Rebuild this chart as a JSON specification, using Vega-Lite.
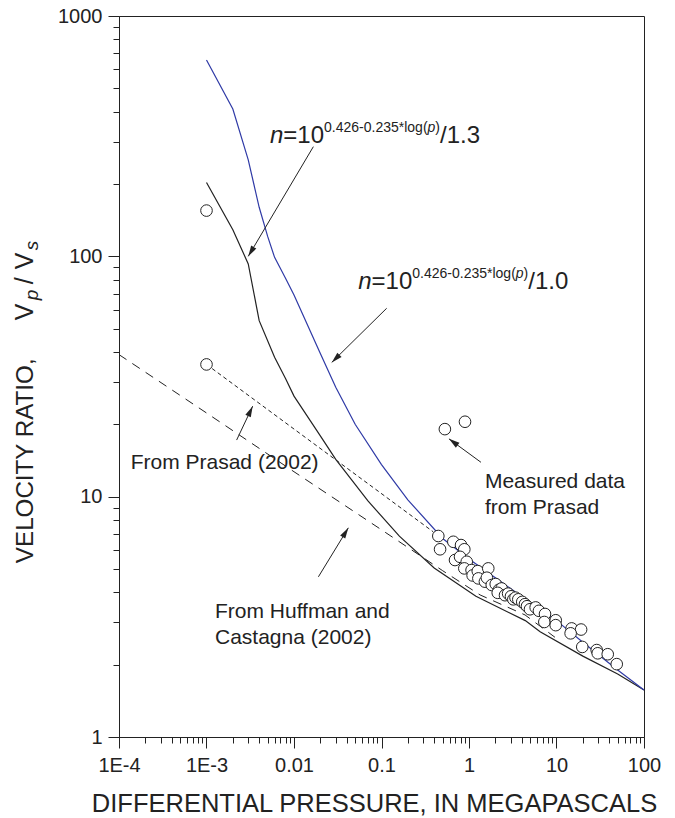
{
  "$schema": "https://vega.github.io/schema/vega-lite/v6.json",
  "width": 525,
  "height": 721,
  "autosize": {"type": "none"},
  "padding": {"left": 119, "top": 16, "right": 31, "bottom": 81},
  "background": "white",
  "config": {
    "font": "Liberation Sans",
    "view": {"stroke": "#222", "strokeWidth": 1},
    "axis": {
      "grid": false,
      "domainColor": "#222",
      "tickColor": "#222",
      "labelColor": "#222",
      "titleColor": "#222",
      "labelFont": "Liberation Sans",
      "titleFont": "Liberation Sans",
      "labelFontSize": 20,
      "titleFontSize": 25.5,
      "titleFontWeight": "normal",
      "labelOverlap": false,
      "labelFlush": false
    }
  },
  "datasets": {
    "blue": [
      {"p": 0.001, "v": 656}, {"p": 0.002, "v": 410}, {"p": 0.003, "v": 252},
      {"p": 0.004, "v": 160}, {"p": 0.005, "v": 121}, {"p": 0.006, "v": 99},
      {"p": 0.008, "v": 81}, {"p": 0.01, "v": 69}, {"p": 0.02, "v": 39.4},
      {"p": 0.03, "v": 28.5}, {"p": 0.05, "v": 20.0}, {"p": 0.1, "v": 13.6},
      {"p": 0.2, "v": 9.7}, {"p": 0.5, "v": 6.7}, {"p": 1, "v": 5.5},
      {"p": 2, "v": 4.6}, {"p": 5, "v": 3.63}, {"p": 10, "v": 3.05},
      {"p": 20, "v": 2.48}, {"p": 50, "v": 1.9}, {"p": 100, "v": 1.57}
    ],
    "black": [
      {"p": 0.001, "v": 203}, {"p": 0.002, "v": 129}, {"p": 0.003, "v": 93},
      {"p": 0.004, "v": 54}, {"p": 0.006, "v": 38}, {"p": 0.008, "v": 31},
      {"p": 0.01, "v": 26.2}, {"p": 0.02, "v": 17.9}, {"p": 0.03, "v": 14.3},
      {"p": 0.07, "v": 9.6}, {"p": 0.16, "v": 6.85}, {"p": 0.4, "v": 5.05},
      {"p": 1.2, "v": 3.85}, {"p": 4.4, "v": 3.05}, {"p": 6.5, "v": 2.74},
      {"p": 20, "v": 2.17}, {"p": 50, "v": 1.83}, {"p": 100, "v": 1.57}
    ],
    "huffman": [
      {"p": 0.0001, "v": 39.0}, {"p": 0.001, "v": 22.3}, {"p": 0.01, "v": 12.7},
      {"p": 0.1, "v": 7.28}, {"p": 0.5, "v": 4.92}, {"p": 1.34, "v": 3.9},
      {"p": 4.37, "v": 3.22}, {"p": 9.6, "v": 2.6}
    ],
    "prasad": [
      {"p": 0.001, "v": 35.5}, {"p": 0.39, "v": 7.14}
    ],
    "measured": [
      {"p": 0.001, "v": 155}, {"p": 0.001, "v": 35.5},
      {"p": 0.53, "v": 19.1}, {"p": 0.9, "v": 20.5},
      {"p": 0.446, "v": 6.86}, {"p": 0.467, "v": 6.04}, {"p": 0.662, "v": 6.49},
      {"p": 0.811, "v": 6.29}, {"p": 0.884, "v": 6.04}, {"p": 0.692, "v": 5.45},
      {"p": 0.79, "v": 5.62}, {"p": 0.942, "v": 5.36}, {"p": 0.884, "v": 5.03},
      {"p": 1.07, "v": 4.95}, {"p": 1.1, "v": 4.7}, {"p": 1.26, "v": 4.9},
      {"p": 1.66, "v": 5.03}, {"p": 1.28, "v": 4.57}, {"p": 1.52, "v": 4.43},
      {"p": 1.6, "v": 4.6}, {"p": 1.82, "v": 4.29}, {"p": 2.02, "v": 4.33},
      {"p": 2.2, "v": 4.1}, {"p": 2.36, "v": 4.15}, {"p": 2.13, "v": 3.98},
      {"p": 2.58, "v": 3.89}, {"p": 2.8, "v": 3.95}, {"p": 3.02, "v": 3.85},
      {"p": 3.21, "v": 3.74}, {"p": 3.4, "v": 3.8}, {"p": 3.66, "v": 3.74},
      {"p": 4.06, "v": 3.65}, {"p": 4.36, "v": 3.57}, {"p": 4.6, "v": 3.5},
      {"p": 4.98, "v": 3.4}, {"p": 5.78, "v": 3.46}, {"p": 6.3, "v": 3.35},
      {"p": 7.39, "v": 3.25}, {"p": 7.26, "v": 3.01}, {"p": 9.8, "v": 3.06},
      {"p": 9.8, "v": 2.92}, {"p": 14.9, "v": 2.83}, {"p": 19.1, "v": 2.8},
      {"p": 14.5, "v": 2.7}, {"p": 19.7, "v": 2.37}, {"p": 28.8, "v": 2.3},
      {"p": 29.6, "v": 2.23}, {"p": 38.5, "v": 2.21}, {"p": 48.8, "v": 2.01}
    ],
    "arrows": [
      {"id": "a1", "p": 0.003, "v": 100, "p2": 0.01665, "v2": 286},
      {"id": "a2", "p": 0.027, "v": 36.2, "p2": 0.1146, "v2": 60.8},
      {"id": "a3", "p": 0.00337, "v": 23.8, "p2": 0.00221, "v2": 17.2},
      {"id": "a4", "p": 0.0418, "v": 7.42, "p2": 0.019, "v2": 4.64},
      {"id": "a5", "p": 0.59, "v": 17.4, "p2": 1.37, "v2": 13.9}
    ],
    "formulas": [
      {"p": 0.00532, "v": 297, "den": "/1.3"},
      {"p": 0.0543, "v": 73.1, "den": "/1.0"}
    ],
    "notes": [
      {"p": 0.000136, "v": 13.0, "text": "From Prasad (2002)"},
      {"p": 1.52, "v": 10.9, "text": "Measured data\nfrom Prasad"},
      {"p": 0.00125, "v": 3.12, "text": "From Huffman and\nCastagna (2002)"}
    ],
    "ytitle": [
      {"p": 0.0000104, "v": 5.29}
    ]
  },
  "encoding": {
    "x": {
      "field": "p",
      "type": "quantitative",
      "scale": {"type": "log", "domain": [0.0001, 100], "nice": false},
      "axis": {
        "title": "DIFFERENTIAL PRESSURE, IN MEGAPASCALS",
        "values": [0.0001, 0.0002, 0.0003, 0.0004, 0.0005, 0.0006, 0.0007, 0.0008, 0.0009,
                   0.001, 0.002, 0.003, 0.004, 0.005, 0.006, 0.007, 0.008, 0.009,
                   0.01, 0.02, 0.03, 0.04, 0.05, 0.06, 0.07, 0.08, 0.09,
                   0.1, 0.2, 0.3, 0.4, 0.5, 0.6, 0.7, 0.8, 0.9,
                   1, 2, 3, 4, 5, 6, 7, 8, 9,
                   10, 20, 30, 40, 50, 60, 70, 80, 90, 100],
        "labelExpr": "datum.value == 0.0001 ? '1E-4' : datum.value == 0.001 ? '1E-3' : (abs(log(datum.value)/LN10 - round(log(datum.value)/LN10)) < 1e-6 ? format(datum.value, '~g') : '')",
        "tickSize": {"condition": {"test": "abs(log(datum.value)/LN10 - round(log(datum.value)/LN10)) < 1e-6", "value": 11}, "value": 6},
        "labelPadding": 7,
        "titleX": 255,
        "titleY": 74,
        "titleBaseline": "alphabetic"
      }
    },
    "y": {
      "field": "v",
      "type": "quantitative",
      "scale": {"type": "log", "domain": [1, 1000], "nice": false},
      "axis": {
        "title": null,
        "values": [1, 2, 3, 4, 5, 6, 7, 8, 9, 10, 20, 30, 40, 50, 60, 70, 80, 90,
                   100, 200, 300, 400, 500, 600, 700, 800, 900, 1000],
        "labelExpr": "abs(log(datum.value)/LN10 - round(log(datum.value)/LN10)) < 1e-6 ? format(datum.value, 'd') : ''",
        "tickSize": {"condition": {"test": "abs(log(datum.value)/LN10 - round(log(datum.value)/LN10)) < 1e-6", "value": 11}, "value": 6},
        "labelPadding": 6
      }
    }
  },
  "layer": [
    {
      "data": {"name": "huffman"},
      "mark": {"type": "line", "stroke": "#222", "strokeWidth": 1, "strokeDash": [9, 7]}
    },
    {
      "data": {"name": "prasad"},
      "mark": {"type": "line", "stroke": "#222", "strokeWidth": 1, "strokeDash": [4, 3]}
    },
    {
      "data": {"name": "black"},
      "mark": {"type": "line", "stroke": "#222", "strokeWidth": 1.2}
    },
    {
      "data": {"name": "blue"},
      "mark": {"type": "line", "stroke": "#2f3aa6", "strokeWidth": 1.2}
    },
    {
      "data": {"name": "arrows"},
      "mark": {"type": "rule", "stroke": "#222", "strokeWidth": 1},
      "encoding": {"x2": {"field": "p2"}, "y2": {"field": "v2"}}
    },
    {
      "data": {"name": "arrows"},
      "transform": [{"filter": "datum.id == 'a1'"}],
      "mark": {"type": "point", "shape": "M0,0L-0.5,1.8L0.5,1.8Z", "size": 144, "angle": 210.7, "filled": true, "fill": "#222", "opacity": 1, "strokeWidth": 0}
    },
    {
      "data": {"name": "arrows"},
      "transform": [{"filter": "datum.id == 'a2'"}],
      "mark": {"type": "point", "shape": "M0,0L-0.5,1.8L0.5,1.8Z", "size": 144, "angle": 225.5, "filled": true, "fill": "#222", "opacity": 1, "strokeWidth": 0}
    },
    {
      "data": {"name": "arrows"},
      "transform": [{"filter": "datum.id == 'a3'"}],
      "mark": {"type": "point", "shape": "M0,0L-0.5,1.8L0.5,1.8Z", "size": 144, "angle": 25.2, "filled": true, "fill": "#222", "opacity": 1, "strokeWidth": 0}
    },
    {
      "data": {"name": "arrows"},
      "transform": [{"filter": "datum.id == 'a4'"}],
      "mark": {"type": "point", "shape": "M0,0L-0.5,1.8L0.5,1.8Z", "size": 144, "angle": 31.5, "filled": true, "fill": "#222", "opacity": 1, "strokeWidth": 0}
    },
    {
      "data": {"name": "arrows"},
      "transform": [{"filter": "datum.id == 'a5'"}],
      "mark": {"type": "point", "shape": "M0,0L-0.5,1.8L0.5,1.8Z", "size": 144, "angle": 306.3, "filled": true, "fill": "#222", "opacity": 1, "strokeWidth": 0}
    },
    {
      "data": {"name": "measured"},
      "mark": {"type": "point", "shape": "circle", "size": 135, "filled": false, "fill": "white", "fillOpacity": 1, "stroke": "#222", "strokeWidth": 1, "opacity": 1}
    },
    {
      "data": {"name": "formulas"},
      "mark": {"type": "text", "text": "n", "font": "Liberation Sans", "fontStyle": "italic", "fontSize": 24, "align": "left", "baseline": "alphabetic", "fill": "#222"}
    },
    {
      "data": {"name": "formulas"},
      "mark": {"type": "text", "text": "=10", "font": "Liberation Sans", "fontSize": 24, "align": "left", "baseline": "alphabetic", "dx": 13.3, "fill": "#222"}
    },
    {
      "data": {"name": "formulas"},
      "mark": {"type": "text", "text": "0.426-0.235*log(", "font": "Liberation Sans", "fontSize": 14, "align": "left", "baseline": "alphabetic", "dx": 54, "dy": -11, "fill": "#222"}
    },
    {
      "data": {"name": "formulas"},
      "mark": {"type": "text", "text": "p", "font": "Liberation Sans", "fontStyle": "italic", "fontSize": 14, "align": "left", "baseline": "alphabetic", "dx": 157.5, "dy": -11, "fill": "#222"}
    },
    {
      "data": {"name": "formulas"},
      "mark": {"type": "text", "text": ")", "font": "Liberation Sans", "fontSize": 14, "align": "left", "baseline": "alphabetic", "dx": 165.3, "dy": -11, "fill": "#222"}
    },
    {
      "data": {"name": "formulas"},
      "mark": {"type": "text", "font": "Liberation Sans", "fontSize": 24, "align": "left", "baseline": "alphabetic", "dx": 170, "fill": "#222"},
      "encoding": {"text": {"field": "den"}}
    },
    {
      "data": {"name": "notes"},
      "mark": {"type": "text", "font": "Liberation Sans", "fontSize": 21, "align": "left", "baseline": "alphabetic", "lineBreak": "\n", "lineHeight": 26, "fill": "#222"},
      "encoding": {"text": {"field": "text"}}
    },
    {
      "data": {"name": "ytitle"},
      "mark": {"type": "text", "text": "VELOCITY RATIO,", "font": "Liberation Sans", "fontSize": 24.2, "angle": 270, "align": "left", "baseline": "alphabetic", "clip": false, "fill": "#222"}
    },
    {
      "data": {"name": "ytitle"},
      "mark": {"type": "text", "text": "V", "font": "Liberation Sans", "fontSize": 25, "angle": 270, "align": "left", "baseline": "alphabetic", "dx": 243, "clip": false, "fill": "#222"}
    },
    {
      "data": {"name": "ytitle"},
      "mark": {"type": "text", "text": "p", "font": "Liberation Sans", "fontStyle": "italic", "fontSize": 19, "angle": 270, "align": "left", "baseline": "alphabetic", "dx": 263, "dy": 5, "clip": false, "fill": "#222"}
    },
    {
      "data": {"name": "ytitle"},
      "mark": {"type": "text", "text": "/", "font": "Liberation Sans", "fontSize": 25, "angle": 270, "align": "left", "baseline": "alphabetic", "dx": 279, "clip": false, "fill": "#222"}
    },
    {
      "data": {"name": "ytitle"},
      "mark": {"type": "text", "text": "V", "font": "Liberation Sans", "fontSize": 25, "angle": 270, "align": "left", "baseline": "alphabetic", "dx": 294, "clip": false, "fill": "#222"}
    },
    {
      "data": {"name": "ytitle"},
      "mark": {"type": "text", "text": "s", "font": "Liberation Sans", "fontStyle": "italic", "fontSize": 19, "angle": 270, "align": "left", "baseline": "alphabetic", "dx": 313, "dy": 5, "clip": false, "fill": "#222"}
    }
  ]
}
